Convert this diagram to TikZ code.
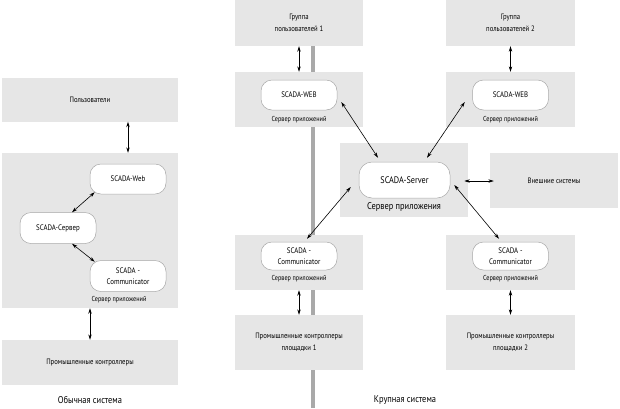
\documentclass[tikz,border=0pt]{standalone}
\usepackage{fontspec}
\setmainfont{PT Sans}[FakeStretch=0.86]
\usetikzlibrary{arrows.meta}
\definecolor{boxgray}{HTML}{E6E6E6}
\definecolor{nodegray}{HTML}{A8A8A8}
\definecolor{linegray}{HTML}{A9A9A9}
\tikzset{
  box/.style={fill=boxgray, inner sep=0pt, align=center, font=\fontsize{7.8}{12}\selectfont},
  proc/.style={draw=nodegray, line width=0.5pt, fill=white, rounded corners=11pt, inner sep=0pt,
    minimum width=76pt, minimum height=30pt, align=center, font=\fontsize{8}{11}\selectfont},
  lbl/.style={inner sep=0pt, font=\fontsize{7.2}{9}\selectfont},
  captext/.style={inner sep=0pt, font=\fontsize{9.8}{11}\selectfont},
  link/.style={line width=0.6pt, {Stealth[length=5.5pt,width=3.4pt]}-{Stealth[length=5.5pt,width=3.4pt]}}
}
\begin{document}
\begin{tikzpicture}[x=1pt,y=-1pt]
\useasboundingbox (0,0) rectangle (620,408);
% backbone line
\coordinate (bt) at (313,0);
\coordinate (bb) at (313,408);
\draw[linegray, line width=4pt] (bt) -- (bb);

% ---------- left: ordinary system ----------
\node[box, minimum width=176pt, minimum height=44pt] (users) at (90,99.5) {Пользователи};
\node[box, minimum width=176pt, minimum height=155pt] (appL) at (90,230.5) {};
\node[proc] (webL) at (128,179) {SCADA-Web};
\node[proc, minimum height=31pt] (srvL) at (58,228) {SCADA-Сервер};
\node[proc, minimum height=31pt] (comL) at (128,276) {SCADA -\\Communicator};
\node[lbl] (lblL) at (119,300) {Сервер приложений};
\node[box, minimum width=176pt, minimum height=45pt] (ctrlL) at (90,362.5) {Промышленные контроллеры};
\node[captext] (capL) at (90,400) {Обычная система};

\draw[link] (users.south -| webL.center) -- (appL.north -| webL.center);
\draw[link] ([xshift=5pt,yshift=2pt]webL.south west) -- ([xshift=14pt]srvL.north);
\draw[link] ([xshift=14pt]srvL.south) -- ([xshift=5pt,yshift=-1.5pt]comL.north west);
\draw[link] (appL.south) -- (ctrlL.north);

% ---------- right: large system ----------
\node[box, minimum width=128pt, minimum height=46pt] (grp1) at (299,23) {Группа\\пользователей 1};
\node[box, minimum width=129pt, minimum height=46pt] (grp2) at (510.5,23) {Группа\\пользователей 2};

\node[box, minimum width=128pt, minimum height=55pt] (w1box) at (299,99.5) {};
\node[proc] (web1) at (299,95) {SCADA-WEB};
\node[lbl] (lblw1) at (299,120) {Сервер приложений};

\node[box, minimum width=129pt, minimum height=55pt] (w2box) at (510.5,99.5) {};
\node[proc] (web2) at (510.5,95) {SCADA-WEB};
\node[lbl] (lblw2) at (510.5,120) {Сервер приложений};

\node[box, minimum width=128pt, minimum height=74pt] (sbox) at (404,180) {};
\node[proc, minimum width=91pt, minimum height=36pt, rounded corners=13pt, font=\fontsize{9.5}{11}\selectfont] (srv) at (404.5,180) {SCADA-Server};
\node[captext] (lbls) at (404,207) {Сервер приложения};

\node[box, minimum width=128pt, minimum height=55pt] (ext) at (554,180.5) {Внешние системы};

\node[box, minimum width=128pt, minimum height=55pt] (c1box) at (299,262.5) {};
\node[proc, minimum height=28pt] (com1) at (299,256) {SCADA -\\Communicator};
\node[lbl] (lblc1) at (299,279) {Сервер приложений};

\node[box, minimum width=129pt, minimum height=55pt] (c2box) at (510.5,262.5) {};
\node[proc, minimum height=28pt] (com2) at (510.5,256) {SCADA -\\Communicator};
\node[lbl] (lblc2) at (510.5,279) {Сервер приложений};

\node[box, minimum width=128pt, minimum height=55pt] (ctrl1) at (299,342.5) {Промышленные контроллеры\\площадки 1};
\node[box, minimum width=129pt, minimum height=55pt] (ctrl2) at (510.5,342.5) {Промышленные контроллеры\\площадки 2};

\node[captext] (capR) at (405,400) {Крупная система};

\draw[link] (grp1.south) -- (w1box.north);
\draw[link] (grp2.south) -- (w2box.north);
\draw[link] ([xshift=4pt,yshift=-7pt]web1.east) -- ([xshift=-26.5pt,yshift=4pt]srv.north);
\draw[link] ([xshift=-7.5pt,yshift=-7pt]web2.west) -- ([xshift=22.5pt,yshift=4pt]srv.north);
\draw[link] ([xshift=-8pt,yshift=-7pt]srv.west) -- ([xshift=8pt,yshift=3pt]com1.north);
\draw[link] ([xshift=4pt,yshift=-5pt]srv.east) -- ([xshift=-11.5pt,yshift=3pt]com2.north);
\draw[link] ([xshift=14pt,yshift=-1pt]srv.east) -- ([xshift=4pt,yshift=-0.5pt]ext.west);
\draw[link] (c1box.south) -- (ctrl1.north);
\draw[link] (c2box.south) -- (ctrl2.north);
\end{tikzpicture}
\end{document}
